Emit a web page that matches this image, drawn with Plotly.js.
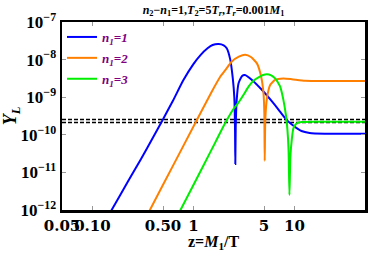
<!DOCTYPE html>
<html>
<head>
<meta charset="utf-8">
<script src="https://cdn.plot.ly/plotly-3.0.1.min.js"></script>
<style>html,body{margin:0;padding:0;background:#fff;}#chart{width:374px;height:253px;}</style>
</head>
<body>
<div id="chart"></div>
<script>
// ---- data ----
const blueZ = [0.14,0.155,0.224,0.302,0.398,0.490,0.631,0.794,1.0,1.175,1.380,1.549,1.778,1.995,2.138,2.317,2.455,2.541,2.582,2.600,2.624,2.679,2.799,3.020,3.236,3.802,4.786,6.026,7.244,8.414,10,11.75,14.13,19.95,50];
const blueY = [6.3e-13,1e-12,5.62e-12,2.24e-11,8.51e-11,2.34e-10,8.32e-10,2.82e-9,7.59e-9,1.32e-8,2.0e-8,2.45e-8,2.6e-8,2.4e-8,2.0e-8,1.0e-8,3.16e-9,1.0e-9,1.58e-10,1.66e-11,1.58e-10,7.94e-10,2.34e-9,3.63e-9,3.89e-9,2.88e-9,1.55e-9,7.59e-10,4.07e-10,2.45e-10,1.66e-10,1.26e-10,1.12e-10,1.07e-10,1.07e-10];

const orangeZ = [0.339,0.371,0.640,1.047,1.219,1.514,1.849,2.070,2.399,2.818,3.258,3.715,4.256,4.688,4.943,5.035,5.082,5.152,5.346,5.754,6.442,7.780,9.419,12.76,19.95,50];
const orangeY = [6.3e-13,1e-12,1.66e-11,2.09e-10,4.57e-10,1.38e-9,3.55e-9,5.25e-9,8.91e-9,1.2e-8,1.35e-8,1.17e-8,7.94e-9,3.51e-9,1.26e-9,3.98e-10,2.04e-11,2.51e-10,9.33e-10,2.11e-9,2.88e-9,3.16e-9,3.02e-9,2.75e-9,2.69e-9,2.69e-9];

const greenZ = [0.676,0.745,1.265,1.648,2.070,2.512,2.799,3.162,3.516,3.981,4.416,4.898,5.346,5.888,6.442,6.918,7.228,7.780,8.279,8.531,8.750,8.933,9.120,9.441,9.772,10.47,11.75,15.85,50];
const greenY = [6.3e-13,1e-12,1.58e-11,6.3e-11,2.09e-10,5.01e-10,7.24e-10,1.2e-9,1.91e-9,2.82e-9,3.39e-9,3.89e-9,4.07e-9,3.8e-9,3.16e-9,2.4e-9,1.91e-9,8.51e-10,3.02e-10,1.35e-10,3.98e-11,2.51e-12,2.51e-11,7.94e-11,1.48e-10,2.0e-10,2.19e-10,2.24e-10,2.24e-10];

const boundZ = [0.05, 50];
const boundUpper = [2.55e-10, 2.55e-10];
const boundLower = [2.12e-10, 2.12e-10];

const seriesNames = ["<i>n</i><sub>1</sub>=1", "<i>n</i><sub>1</sub>=2", "<i>n</i><sub>1</sub>=3"];
const xTickVals = [0.05, 0.1, 0.5, 1, 5, 10, 50];
const xTickText = ["0.05", "0.10", "0.50", "1", "5", "10", "50"];
const yTickVals = [1e-12, 1e-11, 1e-10, 1e-9, 1e-8, 1e-7];
const yTickText = ["10<sup>\u221212</sup>", "10<sup>\u221211</sup>", "10<sup>\u221210</sup>", "10<sup>\u22129</sup>", "10<sup>\u22128</sup>", "10<sup>\u22127</sup>"];
const xTitle = "z=<i>M</i><sub>1</sub>/T";

const SERIF = "Liberation Serif";

const traces = [
  {x: boundZ, y: boundUpper, mode: "lines", line: {color: "#000", width: 1.6, dash: "4px,2px"}, showlegend: false, hoverinfo: "skip"},
  {x: boundZ, y: boundLower, mode: "lines", line: {color: "#000", width: 1.6, dash: "4px,2px"}, showlegend: false, hoverinfo: "skip"},
  {x: blueZ, y: blueY, name: seriesNames[0], legendgroup: "a", mode: "lines", line: {color: "#0000ff", width: 2, shape: "spline", smoothing: 0.5}},
  {x: orangeZ, y: orangeY, name: seriesNames[1], legendgroup: "b", mode: "lines", line: {color: "#ff8000", width: 2, shape: "spline", smoothing: 0.5}},
  {x: greenZ, y: greenY, name: seriesNames[2], legendgroup: "c", mode: "lines", line: {color: "#00ee00", width: 2, shape: "spline", smoothing: 0.5}}
];

const layout = {
  width: 374, height: 253,
  margin: {l: 62, r: 9, t: 22, b: 43},
  paper_bgcolor: "#fff", plot_bgcolor: "#fff",
  font: {family: SERIF, weight: "bold", color: "#000"},
  title: {
    text: "<i>n</i><sub>2</sub>\u2212<i>n</i><sub>1</sub>=1,<i>T</i><sub>2</sub>=5<i>T</i><sub><i>r</i></sub>,<i>T</i><sub><i>r</i></sub>=0.001<i>M</i><sub>1</sub>",
    font: {family: SERIF, size: 12, weight: "bold", color: "#000"},
    x: 0.5, xref: "paper", xanchor: "center",
    y: 0.962, yref: "container", yanchor: "middle"
  },
  xaxis: {
    type: "log", range: [Math.log10(0.05), Math.log10(50)],
    tickmode: "array", tickvals: xTickVals, ticktext: xTickText, tickangle: 0,
    ticks: "inside", ticklen: 4, tickcolor: "#999", tickwidth: 1,
    showline: true, linewidth: 2.5, linecolor: "#000", mirror: "allticks",
    showgrid: false, zeroline: false,
    tickfont: {family: "DejaVu Serif", size: 15, weight: "bold", color: "#000"},
    automargin: false
  },
  yaxis: {
    type: "log", range: [-12, -7],
    tickmode: "array",
    tickvals: yTickVals, ticktext: yTickText, tickangle: 0,
    ticks: "inside", ticklen: 4, tickcolor: "#999", tickwidth: 1,
    showline: true, linewidth: 2.5, linecolor: "#000", mirror: "allticks",
    showgrid: false, zeroline: false,
    tickfont: {family: SERIF, size: 17, weight: "bold", color: "#000"},
    title: {text: "<i>Y</i><sub><i>L</i></sub>", font: {family: SERIF, size: 18, weight: "bold", color: "#000"}, standoff: 2},
    automargin: false
  },
  annotations: [{
    text: xTitle, showarrow: false,
    xref: "paper", yref: "paper", x: 0.5, y: -0.172, xanchor: "center", yanchor: "middle",
    font: {family: SERIF, size: 16, weight: "bold", color: "#000"}
  }],
  legend: {
    x: 0.0, y: 1.0, xanchor: "left", yanchor: "top",
    bgcolor: "rgba(0,0,0,0)", borderwidth: 0,
    font: {family: SERIF, size: 13, weight: "bold", style: "italic", color: "#800080"},
    traceorder: "grouped", tracegroupgap: 1, itemwidth: 30
  },
  showlegend: true
};

Plotly.newPlot("chart", traces, layout, {staticPlot: true, displayModeBar: false});
</script>
</body>
</html>
